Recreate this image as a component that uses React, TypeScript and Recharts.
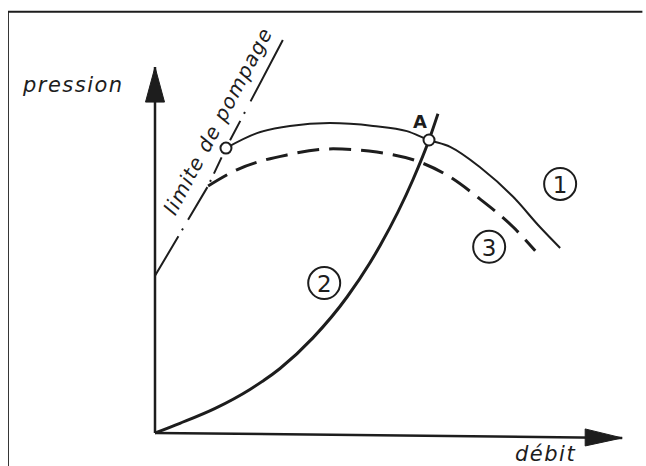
import React from 'react';
import { ComposedChart, Line, Scatter, XAxis, YAxis, ReferenceDot, ReferenceLine } from 'recharts';

const INK = '#1d1d1d';
const FONT = '"DejaVu Sans", sans-serif';

// Courbe ① : caractéristique du compresseur (trait plein)
const debit1 = [15.1, 21.7, 28.7, 37.2, 46.4, 53.6, 58.3, 62.8, 69.1, 76.2, 81.9, 86.2];
const pression1 = [70.7, 74.4, 76.2, 76.9, 76.2, 74.9, 72.7, 71.0, 66.0, 58.6, 51.1, 45.9];

// Courbe ② : caractéristique du circuit
const debit2 = [0, 5.3, 12.8, 20.2, 26.6, 33.6, 40.9, 47.9, 54.9, 58.3, 60.2];
const pression2 = [0, 2.4, 6.1, 10.8, 16.0, 23.6, 33.8, 46.5, 62.9, 72.7, 79.2];

// Courbe ③ : caractéristique réduite (tirets)
const debit3 = [11.3, 17.4, 28.1, 37.9, 47.2, 56.4, 62.1, 69.1, 76.2, 80.9];
const pression3 = [61.3, 65.3, 69.0, 70.5, 69.7, 67.2, 64.0, 58.1, 51.1, 45.2];

// Limite de pompage (trait mixte)
const debitLimite = [0, 11.3, 15.1, 27.2];
const pressionLimite = [39.0, 61.3, 70.7, 97.5];

// Axes
const axeYDebit = [0, 0];
const axePressionY = [0, 90.8];
const axeXDebit = [0, 99.4];
const axeXPression = [0, -1.24];

// Cadre
const cadreGauche = -31.3;
const cadreHaut = 104.5;
const cadreDroite = 103.7;
const cadreBas = -10;

// Points remarquables (cercles ouverts)
const pointsDebit = [15.1, 58.3];
const pointsPression = [70.7, 72.7];

// Étiquettes cerclées
const numLabels = ['1', '2', '3'];
const numDebit = [86.2, 36.0, 71.1];
const numPression = [61.8, 37.2, 46.2];

const labelPression = 'pression';
const labelDebit = 'débit';
const labelLimite = 'limite de pompage';
const labelA = 'A';

const zip = (xs: number[], ys: number[]) => xs.map((x, i) => ({ x, y: ys[i] }));

const arrows = [
  { x: axeYDebit[1], y: axePressionY[1], dir: 'up' },
  { x: axeXDebit[1], y: axeXPression[1], dir: 'right' },
];

const ArrowHead = (props: any) => {
  const { cx, cy, payload } = props;
  let pts;
  if (payload.dir === 'up') {
    pts = `${cx},${cy} ${cx - 9.5},${cy + 35} ${cx + 9.5},${cy + 35}`;
  } else {
    pts = `${cx},${cy} ${cx - 37},${cy - 9} ${cx - 37},${cy + 8}`;
  }
  return <polygon points={pts} fill={INK} stroke={INK} strokeWidth={1} strokeLinejoin="round" />;
};

const OpenDot = (props: any) => {
  const { cx, cy } = props;
  return <circle cx={cx} cy={cy} r={5.5} fill="#fff" stroke={INK} strokeWidth={2} />;
};

const Circled = (props: any) => {
  const { cx, cy, payload } = props;
  return (
    <g>
      <circle cx={cx} cy={cy} r={16} fill="none" stroke={INK} strokeWidth={2} />
      <text x={cx} y={cy + 1} textAnchor="middle" dominantBaseline="central" fontFamily={FONT} fontSize={23} fill={INK}>
        {payload.label}
      </text>
    </g>
  );
};

const numData = numLabels.map((label, i) => ({ x: numDebit[i], y: numPression[i], label }));

export default function App() {
  return (
    <div style={{ position: 'fixed', left: 8, top: 8, width: 638, height: 458, overflow: 'hidden', background: '#fff' }}>
      <ComposedChart width={638} height={458} margin={{ top: 22, right: 21, bottom: 25, left: 147 }}>
        <XAxis type="number" dataKey="x" domain={[0, 100]} hide />
        <YAxis type="number" dataKey="y" domain={[-2, 100]} hide />

        <ReferenceLine
          segment={[{ x: cadreGauche, y: cadreHaut }, { x: cadreDroite, y: cadreHaut }]}
          ifOverflow="visible"
          stroke={INK}
          strokeWidth={2}
        />
        <ReferenceLine
          segment={[{ x: cadreGauche, y: cadreBas }, { x: cadreGauche, y: cadreHaut }]}
          ifOverflow="visible"
          stroke={INK}
          strokeWidth={2}
        />

        <Line data={zip(axeYDebit, axePressionY)} dataKey="y" type="linear" stroke={INK} strokeWidth={2.5} dot={false} activeDot={false} isAnimationActive={false} />
        <Line data={zip(axeXDebit, axeXPression)} dataKey="y" type="linear" stroke={INK} strokeWidth={2.5} dot={false} activeDot={false} isAnimationActive={false} />

        <Line data={zip(debitLimite, pressionLimite)} dataKey="y" type="linear" stroke={INK} strokeWidth={2} strokeDasharray="46 7 2 10 38 6 2 7 18 19 22 8 2 12 80" dot={false} activeDot={false} isAnimationActive={false} />
        <Line data={zip(debit3, pression3)} dataKey="y" type="monotone" stroke={INK} strokeWidth={3} strokeDasharray="22 10" dot={false} activeDot={false} isAnimationActive={false} />
        <Line data={zip(debit1, pression1)} dataKey="y" type="monotone" stroke={INK} strokeWidth={2} dot={false} activeDot={false} isAnimationActive={false} />
        <Line data={zip(debit2, pression2)} dataKey="y" type="monotone" stroke={INK} strokeWidth={3} dot={false} activeDot={false} isAnimationActive={false} />

        <Scatter data={arrows} shape={ArrowHead} isAnimationActive={false} />
        <Scatter data={zip(pointsDebit, pointsPression)} shape={OpenDot} isAnimationActive={false} />
        <Scatter data={numData} shape={Circled} isAnimationActive={false} />

        <ReferenceDot
          x={-28.1}
          y={84.6}
          ifOverflow="visible"
          shape={(p: any) => (
            <text x={p.cx} y={p.cy} fontFamily={FONT} fontStyle="italic" fontSize={21} letterSpacing={1.5} fill={INK}>
              {labelPression}
            </text>
          )}
        />
        <ReferenceDot
          x={76.6}
          y={-7.0}
          ifOverflow="visible"
          shape={(p: any) => (
            <text x={p.cx} y={p.cy} fontFamily={FONT} fontStyle="italic" fontSize={21} letterSpacing={1.5} fill={INK}>
              {labelDebit}
            </text>
          )}
        />
        <ReferenceDot
          x={13.4}
          y={77.4}
          ifOverflow="visible"
          shape={(p: any) => (
            <text
              x={p.cx}
              y={p.cy}
              textAnchor="middle"
              dominantBaseline="central"
              transform={`rotate(-62 ${p.cx} ${p.cy})`}
              fontFamily={FONT}
              fontStyle="italic"
              fontSize={20}
              letterSpacing={1.2}
              fill={INK}
            >
              {labelLimite}
            </text>
          )}
        />
        <ReferenceDot
          x={56.4}
          y={77.2}
          ifOverflow="visible"
          shape={(p: any) => (
            <text x={p.cx} y={p.cy} textAnchor="middle" dominantBaseline="central" fontFamily={FONT} fontSize={18} fontWeight={600} fill={INK}>
              {labelA}
            </text>
          )}
        />
      </ComposedChart>
    </div>
  );
}
